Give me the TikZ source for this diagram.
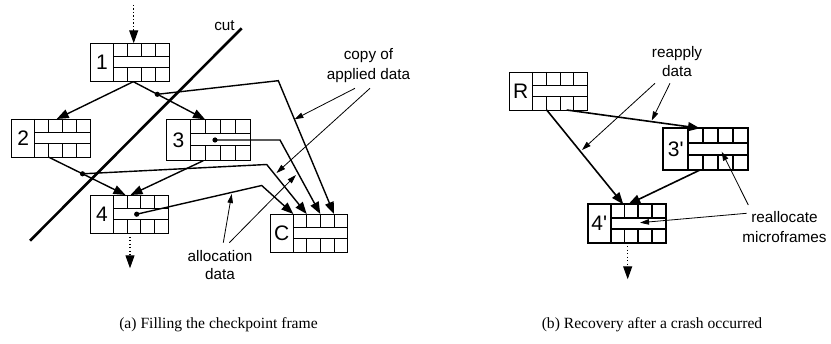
\documentclass[tikz,border=0pt]{standalone}
\usepackage{fontspec}
\setmainfont{Liberation Sans}[Ligatures=TeXOff]
\newfontfamily\capfont{Liberation Serif}
\usetikzlibrary{arrows.meta,calc}
\tikzset{
 frmthin/.style={draw, line width=0.9pt, inner sep=0pt, outer sep=0pt, anchor=north west},
 frmthick/.style={frmthin, line width=1.8pt},
 gridthin/.style={line width=0.9pt},
 gridthick/.style={line width=1.8pt},
 lbl/.style={font=\fontsize{21}{21}\selectfont, inner sep=0pt},
 conn/.style={line width=1.4pt, -{Triangle[length=12pt,width=9pt]}},
 dotconn/.style={line width=1.1pt, dash pattern=on 1.1pt off 2.4pt, -{Triangle[length=13pt,width=9pt]}},
 note/.style={line width=0.8pt, -{Triangle[length=9pt,width=5.5pt]}},
 cutline/.style={line width=2.6pt},
 dotmark/.style={fill=black},
 txt/.style={inner sep=0pt, align=center, anchor=north},
 captext/.style={font=\capfont\fontsize{15.6}{18}\selectfont, inner sep=0pt, anchor=base},
}
% #1 name, #2 x, #3 y, #4 width, #5 height, #6 label width, #7 label, #8 thin/thick
\newcommand{\mkframe}[8]{%
 \node[frm#8, minimum width=#4pt, minimum height=#5pt] (#1) at (#2,#3) {};
 \draw[grid#8] ({#2+#6},#3) -- ({#2+#6},{#3+#5});
 \draw[grid#8] ({#2+#6},{#3+0.35*#5}) -- ({#2+#4},{#3+0.35*#5});
 \draw[grid#8] ({#2+#6},{#3+0.64*#5}) -- ({#2+#4},{#3+0.64*#5});
 \foreach \k in {1,2,3} {
  \draw[grid#8] ({#2+#6+\k*(#4-#6)/4},#3) -- ({#2+#6+\k*(#4-#6)/4},{#3+0.35*#5});
  \draw[grid#8] ({#2+#6+\k*(#4-#6)/4},{#3+0.64*#5}) -- ({#2+#6+\k*(#4-#6)/4},{#3+#5});
 }
 \node[lbl] (#1l) at ({#2+#6/2},{#3+#5/2}) {#7};
}
\begin{document}
\begin{tikzpicture}[x=1pt,y=-1pt]
\useasboundingbox (0,0) rectangle (831,344);
% frames, panel (a)
\mkframe{f1}{90.7}{43.3}{78.3}{38.4}{22.6}{1}{thin}
\mkframe{f2}{11.7}{119}{79}{38.3}{23}{2}{thin}
\mkframe{f3}{166}{119.3}{84.7}{41.4}{24.7}{3}{thin}
\mkframe{f4}{90.7}{195}{77.6}{38.3}{22.6}{4}{thin}
\mkframe{fC}{270}{214}{77.7}{38}{23.3}{C}{thin}
% frames, panel (b)
\mkframe{fR}{509.3}{72}{78.4}{38}{23}{R}{thin}
\mkframe{f3p}{663.3}{128.3}{84.4}{41.7}{25}{3'}{thick}
\mkframe{f4p}{587.7}{204.3}{78}{38.4}{23}{4'}{thick}

% connector end points
\coordinate (f1in) at (133.7,5);
\coordinate (f1t) at ([xshift=43pt]f1.north west);
\coordinate (f1b) at ([xshift=42.6pt]f1.south west);
\coordinate (f2t) at ([xshift=45pt]f2.north west);
\coordinate (f2b) at ([xshift=37.3pt]f2.south west);
\coordinate (f3t) at ([xshift=39pt]f3.north west);
\coordinate (f3b) at ([xshift=37.3pt]f3.south west);
\coordinate (f4ta) at ([xshift=34.8pt]f4.north west);
\coordinate (f4tb) at ([xshift=39.8pt]f4.north west);
\coordinate (f4b) at ([xshift=39.3pt]f4.south west);
\coordinate (f4out) at (130,268.3);
\coordinate (c1) at ([xshift=23.3pt]fC.north west);
\coordinate (c2) at ([xshift=36.7pt]fC.north west);
\coordinate (c3) at ([xshift=50.3pt]fC.north west);
\coordinate (c4) at ([xshift=64pt]fC.north west);
\coordinate (d1) at ($(f1b)!0.335!(f3t)$);
\coordinate (d2) at ($(f2b)!0.438!(f4ta)$);
\coordinate (d3) at (215,140);
\coordinate (d4) at (136.7,214.2);
\coordinate (b1) at (278.3,80.7);
\coordinate (b2) at (266.7,164.5);
\coordinate (b3) at (280,140);
\coordinate (b4) at (261.7,185.5);
\coordinate (cutA) at (30,240.7);
\coordinate (cutB) at (241.7,28.3);

% panel (a) connectors
\draw[dotconn] (f1in) -- (f1t);
\draw[conn] (f1b) -- (f2t);
\draw[conn] (f1b) -- (f3t);
\draw[conn] (f2b) -- (f4ta);
\draw[conn] (f3b) -- (f4tb);
\draw[conn] (d1) -- (b1) -- (c4);
\draw[conn] (d3) -- (b3) -- (c3);
\draw[conn] (d2) -- (b2) -- (c2);
\draw[conn] (d4) -- (b4) -- (c1);
\draw[dotconn] (f4b) -- (f4out);
\foreach \d in {d1,d2,d3,d4} \fill[dotmark] (\d) circle (2.6pt);
\draw[cutline] (cutA) -- (cutB);

% panel (a) labels
\node[inner sep=0pt, anchor=base, font=\fontsize{15.3}{18}\selectfont] (cut) at (224.5,30.5) {cut};
\node[txt, font=\fontsize{15.3}{20}\selectfont] (copy) at (368.5,48) {copy of\\applied data};
\node[txt, font=\fontsize{15.3}{18.3}\selectfont] (alloc) at (220,250) {allocation\\data};
\coordinate (cp1) at (355,88.3);
\coordinate (cp2) at (370,88.3);
\coordinate (cpt1) at ($(b1)!0.29!(c4)$);
\coordinate (cpt2) at (276.5,173);
\coordinate (al1) at (223.3,242.7);
\coordinate (al2) at (229.3,242.7);
\coordinate (alt1) at (231.7,194);
\coordinate (alt2) at (296,175);
\draw[note] (cp1) -- (cpt1);
\draw[note] (cp2) -- (cpt2);
\draw[note] (al1) -- (alt1);
\draw[note] (al2) -- (alt2);

% panel (b) connectors
\coordinate (rb1) at ([xshift=57.4pt]fR.south west);
\coordinate (rb2) at ([xshift=37.4pt]fR.south west);
\coordinate (p3t) at ([xshift=36.7pt]f3p.north west);
\coordinate (p3b) at ([xshift=36.7pt]f3p.south west);
\coordinate (p4ta) at ([xshift=35.6pt]f4p.north west);
\coordinate (p4tb) at ([xshift=40.6pt]f4p.north west);
\coordinate (p4b) at ([xshift=40pt]f4p.south west);
\coordinate (p4out) at (627.7,279.3);
\draw[conn, line width=1.6pt] (rb1) -- (p3t);
\draw[conn, line width=1.6pt] (rb2) -- (p4ta);
\draw[conn, line width=1.6pt] (p3b) -- (p4tb);
\draw[dotconn] (p4b) -- (p4out);

% panel (b) labels
\node[txt, font=\fontsize{15.3}{18.5}\selectfont] (reapply) at (677,46.3) {reapply\\data};
\node[txt, font=\fontsize{15.3}{20}\selectfont] (realloc) at (784.5,211.7) {reallocate\\microframes};
\coordinate (ra1) at (655,83.3);
\coordinate (ra2) at (670,83.3);
\coordinate (rat1) at (582,150);
\coordinate (rat2) at (651.7,120.5);
\coordinate (rl1) at (748.3,205);
\coordinate (rl2) at (746.7,213.3);
\coordinate (rlt1) at (721.7,151.7);
\coordinate (rlt2) at (640,222.7);
\draw[note] (ra1) -- (rat1);
\draw[note] (ra2) -- (rat2);
\draw[note] (rl1) -- (rlt1);
\draw[note] (rl2) -- (rlt2);

% captions
\node[captext] (capa) at (218.5,329) {(a) Filling the checkpoint frame};
\node[captext] (capb) at (652,329) {(b) Recovery after a crash occurred};
\end{tikzpicture}
\end{document}
